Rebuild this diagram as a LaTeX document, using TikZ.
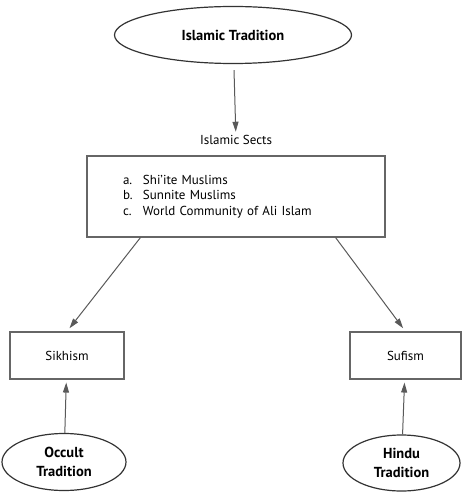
\documentclass[tikz,border=0pt]{standalone}
\usepackage{fontspec}
\setmainfont{PT Sans}
\usetikzlibrary{shapes.geometric,arrows.meta}
\tikzset{
  trad/.style={draw=black!80,line width=1.2pt,ellipse,font=\bfseries\fontsize{14.5}{19}\selectfont,align=center,inner sep=0pt},
  sectbox/.style={draw=black!60,line width=1.1pt,rectangle,font=\fontsize{13}{15}\selectfont},
  arr/.style={draw=black!65,line width=1pt,-{Triangle[width=6pt,length=10pt]}}
}
\begin{document}
\begin{tikzpicture}[x=1pt,y=-1pt]
  \useasboundingbox (0,0) rectangle (462,494);
  \draw
    (233,35) node[trad,minimum width=237,minimum height=57] (islam){Islamic Tradition}
    (236,140) node[font=\fontsize{13}{15}\selectfont] (sects){Islamic Sects}
    (236,196.5) node[sectbox,minimum width=298,minimum height=81,text width=226,inner xsep=36,
      align=left,font=\fontsize{13}{15.5}\selectfont] (list){%
      \makebox[20pt][l]{a.}Shi’ite Muslims\\
      \makebox[20pt][l]{b.}Sunnite Muslims\\
      \makebox[20pt][l]{c.}World Community of Ali Islam}
    (67,355.5) node[sectbox,minimum width=114,minimum height=47] (sikh){Sikhism}
    (405.5,355.5) node[sectbox,minimum width=111,minimum height=47] (sufi){Sufism}
    (64,462) node[trad,minimum width=124,minimum height=57] (occult){Occult\\Tradition}
    (401.5,463) node[trad,minimum width=117,minimum height=56] (hindu){Hindu\\Tradition};
  \begin{scope}[arr]
    \draw[shorten <=6pt] (islam) to (sects);
    \draw[shorten >=4pt] ([xshift=54pt]list.south west) to (sikh.north);
    \draw[shorten >=4pt] ([xshift=-50pt]list.south east) to (sufi.north);
    \draw[shorten >=3pt] (occult) to (sikh);
    \draw[shorten >=3pt] (hindu) to (sufi);
  \end{scope}
\end{tikzpicture}
\end{document}
